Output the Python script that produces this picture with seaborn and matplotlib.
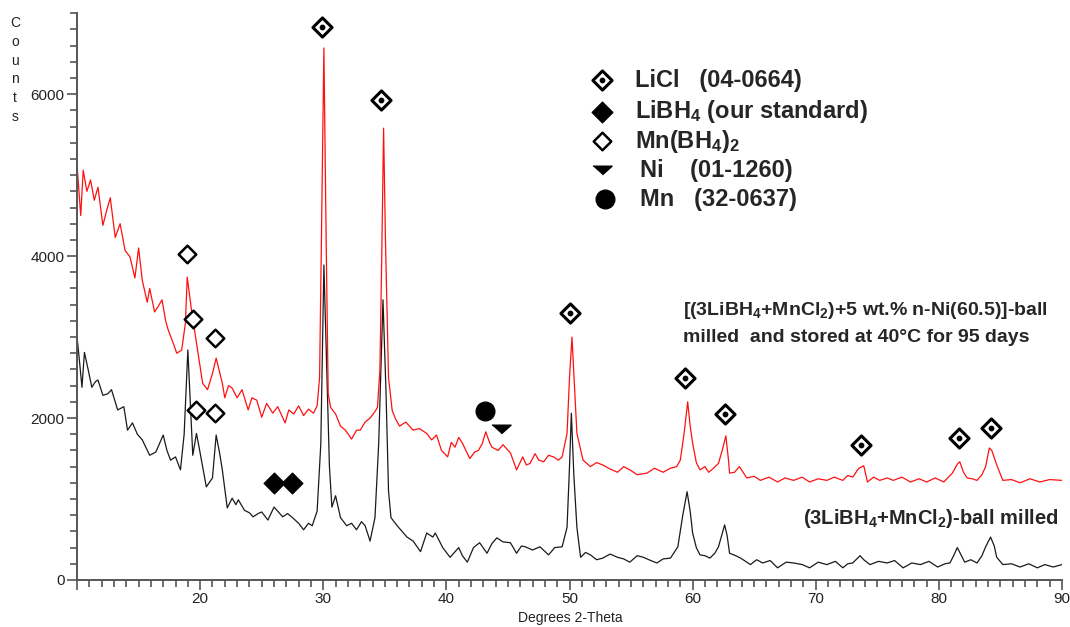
import numpy as np
import pandas as pd
import matplotlib
matplotlib.use('Agg')
import matplotlib.pyplot as plt
from matplotlib.ticker import MultipleLocator, FuncFormatter
import seaborn as sns

# red trace: stored sample (3LiBH4+MnCl2)+5 wt.% n-Ni
red_x = [10.0, 10.3, 10.5, 10.8, 11.1, 11.4, 11.7, 12.1, 12.4, 12.7, 13.1, 13.5, 13.9, 14.3, 14.7,
         15.0, 15.3, 15.7, 15.9, 16.3, 16.6, 16.9, 17.2, 17.4, 17.8, 18.1, 18.5, 18.8, 18.95, 19.3,
         19.7, 20.2, 20.6, 21.0, 21.3, 21.8, 22.0, 22.3, 22.6, 23.0, 23.4, 23.9, 24.2, 24.6, 25.0,
         25.4, 25.9, 26.3, 26.9, 27.2, 27.6, 28.0, 28.4, 28.8, 29.2, 29.5, 29.7, 29.85, 30.05, 30.25,
         30.4, 30.6, 31.0, 31.4, 31.8, 32.3, 32.7, 33.0, 33.4, 33.8, 34.2, 34.4, 34.6, 34.75, 34.9,
         35.05, 35.3, 35.6, 35.9, 36.2, 36.7, 37.3, 37.8, 38.4, 38.8, 39.2, 39.6, 40.1, 40.4, 40.7,
         41.0, 41.3, 41.9, 42.3, 42.6, 42.9, 43.2, 43.5, 43.7, 44.2, 44.6, 45.2, 45.7, 46.2, 46.5,
         46.8, 47.2, 47.5, 47.9, 48.3, 48.7, 49.1, 49.4, 49.8, 50.0, 50.2, 50.4, 50.6, 51.1, 51.7,
         52.2, 52.7, 53.3, 53.9, 54.4, 54.9, 55.5, 56.3, 56.9, 57.6, 58.2, 58.7, 59.0, 59.3, 59.6,
         59.8, 60.0, 60.3, 60.6, 61.0, 61.3, 61.7, 62.1, 62.4, 62.7, 62.9, 63.0, 63.4, 63.8, 64.4,
         65.0, 65.5, 66.2, 66.9, 67.5, 68.2, 68.9, 69.5, 70.2, 70.9, 71.5, 72.2, 72.6, 73.0, 73.5,
         73.9, 74.2, 74.7, 75.2, 75.8, 76.3, 77.0, 77.7, 78.4, 79.0, 79.7, 80.4, 81.1, 81.5, 81.7,
         82.0, 82.3, 82.7, 83.1, 83.5, 83.8, 84.1, 84.3, 84.7, 85.2, 85.9, 86.6, 87.4, 88.2, 89.0,
         90.0]
red_y = [5120, 4500, 5060, 4800, 4940, 4690, 4850, 4380, 4560, 4720, 4230, 4400, 4070, 3990, 3730,
         4100, 3700, 3430, 3600, 3310, 3380, 3460, 3200, 3090, 2930, 2800, 2840, 3170, 3740, 3330,
         2930, 2430, 2350, 2550, 2740, 2430, 2250, 2400, 2370, 2250, 2350, 2100, 2250, 2220, 2010,
         2180, 2060, 2140, 1940, 2100, 2050, 2150, 2030, 2110, 2060, 2150, 2500, 4200, 6570, 4000,
         2300, 2130, 2050, 1900, 1850, 1740, 1850, 1850, 1950, 2000, 2080, 2130, 2590, 4000, 5580,
         4200, 2500, 2090, 1980, 1900, 1950, 1850, 1870, 1810, 1730, 1790, 1600, 1520, 1700, 1640,
         1760, 1690, 1500, 1580, 1600, 1680, 1830, 1700, 1640, 1600, 1670, 1570, 1360, 1520, 1420,
         1440, 1560, 1480, 1460, 1540, 1520, 1480, 1520, 1810, 2500, 3000, 2400, 1810, 1480, 1400,
         1450, 1420, 1370, 1330, 1400, 1360, 1300, 1320, 1380, 1330, 1380, 1400, 1480, 1800, 2200,
         1900, 1690, 1450, 1360, 1400, 1330, 1380, 1440, 1600, 1780, 1500, 1320, 1330, 1400, 1260,
         1280, 1230, 1270, 1210, 1260, 1230, 1270, 1210, 1250, 1230, 1270, 1230, 1290, 1270, 1380,
         1410, 1210, 1270, 1230, 1260, 1230, 1270, 1210, 1250, 1210, 1260, 1210, 1320, 1430, 1460,
         1330, 1260, 1250, 1230, 1300, 1400, 1630, 1600, 1420, 1230, 1240, 1200, 1250, 1210, 1240,
         1230]

# black trace: as-milled (3LiBH4+MnCl2)
blk_x = [10.0, 10.2, 10.4, 10.6, 10.9, 11.2, 11.5, 11.7, 12.1, 12.5, 12.8, 13.3, 13.8, 14.1, 14.5,
         14.9, 15.3, 15.9, 16.4, 17.0, 17.3, 17.6, 18.0, 18.4, 18.7, 19.0, 19.2, 19.4, 19.7, 19.9,
         20.2, 20.5, 21.0, 21.3, 21.6, 21.8, 22.2, 22.6, 22.9, 23.1, 23.6, 24.0, 24.3, 24.7, 25.0,
         25.5, 26.0, 26.3, 26.7, 27.1, 27.5, 28.0, 28.4, 28.8, 29.1, 29.5, 29.8, 30.05, 30.3, 30.5,
         30.7, 31.0, 31.4, 31.9, 32.3, 32.7, 33.1, 33.4, 33.8, 34.2, 34.5, 34.85, 35.1, 35.3, 35.5,
         36.0, 36.4, 36.8, 37.3, 37.9, 38.4, 38.9, 39.1, 39.7, 40.3, 41.0, 41.3, 41.7, 42.2, 42.7,
         43.3, 43.7, 44.1, 44.6, 45.2, 45.7, 46.1, 46.4, 47.0, 47.6, 48.3, 48.8, 49.4, 49.8, 50.0,
         50.15, 50.35, 50.6, 50.9, 51.3, 51.7, 52.2, 52.7, 53.3, 53.9, 54.4, 54.9, 55.5, 56.0, 56.6,
         57.1, 57.6, 58.2, 58.8, 59.2, 59.55, 59.8, 60.0, 60.3, 60.6, 61.0, 61.4, 61.8, 62.1, 62.6,
         62.8, 63.0, 63.5, 63.9, 64.3, 64.7, 65.2, 65.7, 66.3, 66.9, 67.6, 68.2, 68.9, 69.5, 70.2,
         70.9, 71.6, 72.2, 72.6, 73.0, 73.6, 73.9, 74.4, 75.1, 75.8, 76.4, 77.1, 77.8, 78.5, 79.2,
         79.9, 80.5, 80.9, 81.2, 81.5, 81.8, 82.1, 82.6, 83.1, 83.5, 83.8, 84.2, 84.5, 84.7, 85.2,
         85.9, 86.6, 87.3, 88.0, 88.6, 89.3, 90.0]
blk_y = [3000, 2700, 2380, 2810, 2600, 2380, 2450, 2470, 2280, 2300, 2350, 2100, 2140, 1850, 1940,
         1800, 1730, 1540, 1580, 1790, 1600, 1480, 1520, 1360, 1800, 2840, 2200, 1540, 1810, 1650,
         1400, 1150, 1260, 1790, 1550, 1360, 890, 1010, 930, 990, 860, 830, 780, 820, 840,
         740, 900, 850, 780, 820, 770, 700, 620, 700, 670, 850, 1680, 3890, 2500, 1400,
         900, 1040, 770, 670, 700, 620, 720, 670, 480, 770, 1680, 3460, 2300, 1100, 770,
         670, 600, 530, 480, 350, 580, 530, 580, 400, 280, 400, 300, 220, 400, 460,
         330, 450, 520, 470, 460, 330, 420, 410, 370, 410, 310, 400, 410, 650, 1400,
         2060, 1300, 650, 280, 340, 310, 250, 270, 320, 280, 260, 220, 300, 280, 240,
         210, 260, 270, 410, 800, 1090, 850, 580, 400, 310, 300, 270, 330, 410, 680,
         550, 330, 300, 270, 230, 190, 250, 210, 240, 150, 220, 210, 190, 150, 220,
         190, 230, 150, 200, 210, 300, 250, 190, 230, 210, 240, 150, 210, 190, 230,
         160, 200, 210, 300, 400, 310, 220, 250, 210, 300, 410, 530, 420, 280, 190,
         200, 160, 200, 150, 190, 160, 190]

# phase markers on the peaks
licl_x = [29.9, 34.7, 50.0, 59.4, 62.6, 73.7, 81.6, 84.2]
licl_y = [6830, 5930, 3300, 2490, 2050, 1670, 1750, 1880]
mnbh_x = [18.9, 19.4, 21.2, 19.7, 21.2]
mnbh_y = [4020, 3220, 2990, 2100, 2060]
libh_x = [26.0, 27.5]
libh_y = [1200, 1200]
mn_x, mn_y = [43.1], [2090]
ni_x, ni_y = [44.4], [1860]

legend_labels = [r'LiCl   (04-0664)', r'LiBH$_4$ (our standard)', r'Mn(BH$_4$)$_2$',
                 r'Ni    (01-1260)', r'Mn   (32-0637)']

sns.set_style('white')
plt.rcParams['font.family'] = ['Liberation Sans', 'DejaVu Sans']
plt.rcParams['mathtext.fontset'] = 'custom'
plt.rcParams['mathtext.rm'] = 'Liberation Sans:bold'
plt.rcParams['mathtext.it'] = 'Liberation Sans:bold'
plt.rcParams['mathtext.bf'] = 'Liberation Sans:bold'

red = pd.DataFrame({'theta': red_x, 'counts': red_y})
blk = pd.DataFrame({'theta': blk_x, 'counts': blk_y})

fig = plt.figure(figsize=(10.7, 6.27), dpi=100)
ax = fig.add_axes([0.072, 0.075, 0.9205, 0.904])

sns.lineplot(data=blk, x='theta', y='counts', color='#1a1a1a', lw=0.9, ax=ax)
sns.lineplot(data=red, x='theta', y='counts', color='#ff1010', lw=0.9, ax=ax)

# LiCl: open diamond with a dot inside
ax.scatter(licl_x, licl_y, marker='D', s=95, facecolor='white', edgecolor='black', lw=2.2, zorder=5)
ax.scatter(licl_x, licl_y, marker='o', s=10, color='black', zorder=6)
ax.scatter(mnbh_x, mnbh_y, marker='D', s=80, facecolor='white', edgecolor='black', lw=1.8, zorder=5)
ax.scatter(libh_x, libh_y, marker='D', s=110, color='black', zorder=5)
ax.scatter(mn_x, mn_y, marker='o', s=180, color='black', zorder=5)
tri = [(-1, 0.45), (1, 0.45), (0, -0.45)]
ax.scatter(ni_x, ni_y, marker=tri, s=190, color='black', zorder=5)

# text legend
lx, tx = 52.6, 55.3
ly = [6170, 5780, 5420, 5060, 4700]
ax.scatter([lx], [ly[0]], marker='D', s=95, facecolor='white', edgecolor='black', lw=2.2, zorder=5)
ax.scatter([lx], [ly[0]], marker='o', s=10, color='black', zorder=6)
ax.scatter([lx], [ly[1]], marker='D', s=110, color='black', zorder=5)
ax.scatter([lx], [ly[2]], marker='D', s=80, facecolor='white', edgecolor='black', lw=1.8, zorder=5)
ax.scatter([lx], [ly[3]], marker=tri, s=190, color='black', zorder=5)
ax.scatter([lx + 0.3], [ly[4]], marker='o', s=180, color='black', zorder=5)
for i, lab in enumerate(legend_labels):
    x0 = tx + (0.4 if i >= 3 else 0)
    ax.text(x0, ly[i], lab, fontsize=17, fontweight='bold', va='center', ha='left')

ax.text(59.2, 3330, r'[(3LiBH$_4$+MnCl$_2$)+5 wt.% n-Ni(60.5)]-ball', fontsize=14,
        fontweight='bold', va='center', ha='left')
ax.text(59.2, 2990, 'milled  and stored at 40\u00b0C for 95 days', fontsize=14,
        fontweight='bold', va='center', ha='left')
ax.text(69.0, 765, r'(3LiBH$_4$+MnCl$_2$)-ball milled', fontsize=14.5,
        fontweight='bold', va='center', ha='left')

ax.set_xlim(10, 90)
ax.set_ylim(0, 7000)
ax.xaxis.set_major_locator(MultipleLocator(10))
ax.xaxis.set_minor_locator(MultipleLocator(1))
ax.xaxis.set_major_formatter(FuncFormatter(lambda v, p: '' if v < 15 else '%d' % v))
ax.yaxis.set_major_locator(MultipleLocator(2000))
ax.yaxis.set_minor_locator(MultipleLocator(200))

for s in ['top', 'right']:
    ax.spines[s].set_visible(False)
for s in ['left', 'bottom']:
    ax.spines[s].set_color('#555555')
    ax.spines[s].set_linewidth(1.4)
ax.tick_params(which='both', direction='out', color='#555555', width=1.2,
               labelsize=11, labelcolor='#222222', pad=2)
ax.tick_params(which='major', length=7)
ax.tick_params(which='minor', length=5)
ax.tick_params(axis='x', which='both', bottom=True)
ax.tick_params(axis='y', which='both', left=True)

ax.set_xlabel('')
ax.set_ylabel('')
fig.text(570 / 1070, 1 - 618 / 627, 'Degrees 2-Theta', fontsize=10, ha='center', va='center',
         color='#222222')
fig.text(15 / 1070, 1 - 70 / 627, 'C\no\nu\nn\nt\ns', fontsize=10, ha='center', va='center',
         linespacing=1.45, color='#222222')

fig.savefig('out.png', dpi=100)
